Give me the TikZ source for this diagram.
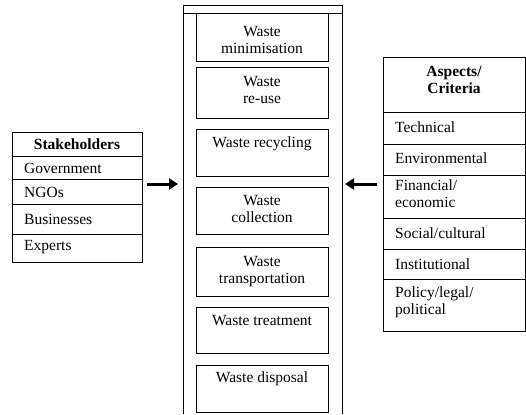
\documentclass[tikz,border=0pt]{standalone}
\usepackage{fontspec}
\setmainfont{Liberation Serif}
\usetikzlibrary{arrows.meta}
\tikzset{
  cell/.style={draw, line width=1pt, anchor=north west, inner sep=0pt, outer sep=0pt},
  txt/.style={inner sep=0pt, font=\fontsize{15.5}{17}\selectfont},
  bigarrow/.style={line width=3pt, -{Triangle[length=9pt,width=11pt]}},
  frame/.style={line width=1pt}
}
\newcommand{\cellbox}[5]{\node[cell, minimum width={#4-#2}, minimum height={#5-#3}] (#1) at (#2,#3) {};}
\begin{document}
\begin{tikzpicture}[x=1pt,y=-1pt]
\useasboundingbox (0,0) rectangle (526,414);
% ---------- Stakeholders ----------
\cellbox{sh}{12}{133}{142}{156}
\cellbox{sgov}{12}{156}{142}{179}
\cellbox{sngo}{12}{179}{142}{204}
\cellbox{sbus}{12}{204}{142}{234}
\cellbox{sexp}{12}{234}{142}{262}
\node[txt, font=\fontsize{15.5}{17}\selectfont\bfseries] (tsh) at (sh.center) {Stakeholders};
\node[txt, anchor=west] (tgov) at (24,168) {Government};
\node[txt, anchor=west] (tngo) at (24,192) {NGOs};
\node[txt, anchor=west] (tbus) at (24,219) {Businesses};
\node[txt, anchor=west] (texp) at (24,247) {Experts};
% ---------- Frame ----------
\coordinate (ftl) at (183,6);
\coordinate (ftr) at (342,6);
\coordinate (fml) at (183,14);
\coordinate (fmr) at (342,14);
\coordinate (fbl) at (183,414);
\coordinate (fbr) at (342,414);
\draw[frame] (fbl) -- (ftl) -- (ftr) -- (fbr);
\draw[frame] (fml) -- (fmr);
% ---------- Middle boxes ----------
\cellbox{m1}{196}{14}{328}{62}
\cellbox{m2}{196}{68}{328}{119}
\cellbox{m3}{196}{130}{328}{176}
\cellbox{m4}{196}{187}{328}{234}
\cellbox{m5}{196}{247}{328}{296}
\cellbox{m6}{196}{307}{328}{353}
\cellbox{m7}{196}{365}{328}{412}
\node[txt, anchor=north, align=center] (tm1) at (262,26) {Waste\\minimisation};
\node[txt, anchor=north, align=center] (tm2) at (262,76) {Waste\\re-use};
\node[txt, anchor=north, align=center] (tm3) at (262,137) {Waste recycling};
\node[txt, anchor=north, align=center] (tm4) at (262,195) {Waste\\collection};
\node[txt, anchor=north, align=center] (tm5) at (262,256) {Waste\\transportation};
\node[txt, anchor=north, align=center] (tm6) at (262,315) {Waste treatment};
\node[txt, anchor=north, align=center] (tm7) at (262,372) {Waste disposal};
% ---------- Aspects ----------
\cellbox{ah}{383}{58}{525}{113}
\cellbox{atec}{383}{113}{525}{144}
\cellbox{aenv}{383}{144}{525}{175}
\cellbox{afin}{383}{175}{525}{218}
\cellbox{asoc}{383}{218}{525}{249}
\cellbox{ains}{383}{249}{525}{279}
\cellbox{apol}{383}{279}{525}{331}
\node[txt, font=\fontsize{15.5}{17}\selectfont\bfseries, anchor=north, align=center] (tah) at (454,66) {Aspects/\\Criteria};
\node[txt, anchor=west] (ttec) at (395,127) {Technical};
\node[txt, anchor=west] (tenv) at (395,158) {Environmental};
\node[txt, anchor=north west, align=left] (tfin) at (395,180) {Financial/\\economic};
\node[txt, anchor=west] (tsoc) at (395,233) {Social/cultural};
\node[txt, anchor=west] (tins) at (395,264) {Institutional};
\node[txt, anchor=north west, align=left] (tpol) at (395,287) {Policy/legal/\\political};
% ---------- Arrows ----------
\coordinate (a1s) at (147,184);
\coordinate (a1e) at (178,184);
\coordinate (a2s) at (377,184);
\coordinate (a2e) at (345,184);
\draw[bigarrow] (a1s) -- (a1e);
\draw[bigarrow] (a2s) -- (a2e);
\end{tikzpicture}
\end{document}
